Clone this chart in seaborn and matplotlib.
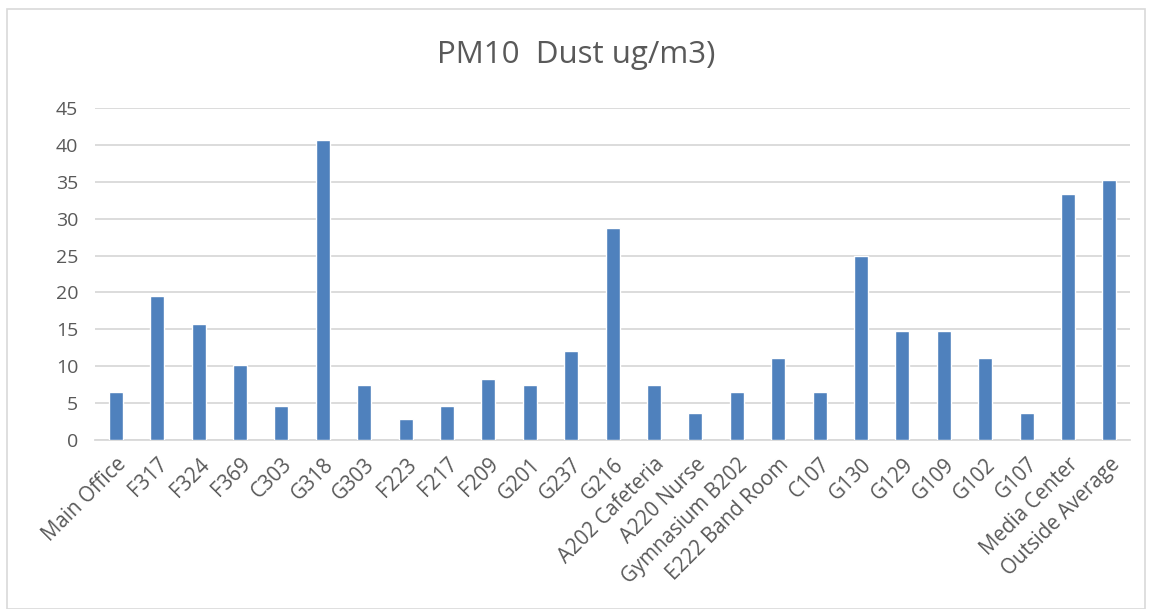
import pandas as pd
import seaborn as sns
import matplotlib.pyplot as plt
from matplotlib.patches import Rectangle

# room names and PM10 readings
rooms = ["Main Office", "F317", "F324", "F369", "C303", "G318", "G303", "F223",
         "F217", "F209", "G201", "G237", "G216", "A202 Cafeteria", "A220 Nurse",
         "Gymnasium B202", "E222 Band Room", "C107", "G130", "G129", "G109",
         "G102", "G107", "Media Center", "Outside Average"]
pm10 = [6.5, 19.5, 15.7, 10.2, 4.6, 40.7, 7.4, 2.8, 4.6, 8.3, 7.4, 12.0,
        28.7, 7.4, 3.7, 6.5, 11.1, 6.5, 25.0, 14.8, 14.8, 11.1, 3.7, 33.3, 35.2]
y_ticks = [0, 5, 10, 15, 20, 25, 30, 35, 40, 45]

df = pd.DataFrame({"room": rooms, "pm10": pm10})

sns.set_style("white")
plt.rcParams['font.family'] = ['Open Sans', 'DejaVu Sans']

fig = plt.figure(figsize=(11.52, 6.09), dpi=100)
ax = fig.add_axes([0.0825, 0.2775, 0.8985, 0.5452])

sns.barplot(data=df, x="room", y="pm10", color="#4f81bd", width=0.34,
            saturation=1, ax=ax, zorder=3)

ax.set_ylim(0, 45)
ax.set_yticks(y_ticks)
ax.set_xlim(-0.5, len(rooms) - 0.5)
ax.yaxis.grid(True, color="#d9d9d9", linewidth=1.3, zorder=0)
ax.set_axisbelow(True)
for s in ["top", "right", "left"]:
    ax.spines[s].set_visible(False)
ax.spines["bottom"].set_color("#d9d9d9")
ax.spines["bottom"].set_linewidth(1.3)

ax.set_xlabel("")
ax.set_ylabel("")
ax.tick_params(axis="both", length=0, colors="#595959")
ax.tick_params(axis="y", pad=12, labelsize=14)
ax.tick_params(axis="x", pad=10, labelsize=14.8)
plt.setp(ax.get_xticklabels(), rotation=45, ha="right", rotation_mode="anchor")

fig.text(0.5, 0.91, "PM10  Dust ug/m3)", ha="center", va="center",
         fontsize=22.5, color="#595959")

# light chart border like the original
fig.patches.append(Rectangle((0.006, 0.0), 0.988, 0.986, transform=fig.transFigure,
                             fill=False, edgecolor="#d9d9d9", linewidth=1.2))

fig.savefig("out.png", dpi=100)
